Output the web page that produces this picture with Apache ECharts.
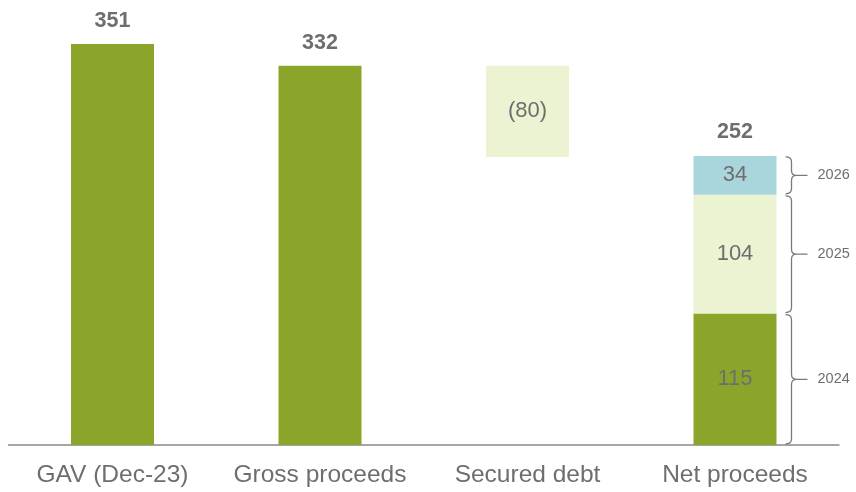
<!DOCTYPE html>
<html><head><meta charset="utf-8">
<script src="https://cdn.jsdelivr.net/npm/echarts@6/dist/echarts.min.js"></script>
<style>html,body{margin:0;padding:0;background:#fff}#c{width:856px;height:492px}</style>
</head><body><div id="c"></div>
<script>
const categories = ['GAV (Dec-23)', 'Gross proceeds', 'Secured debt', 'Net proceeds'];
const mainBars = [351, 332, '-', '-'];
const debtBase = ['-', '-', 252, '-'];
const debtValue = ['-', '-', 80, '-'];
const debtLabels = ['', '', '(80)', ''];
const net2024 = ['-', '-', '-', 115];
const net2025 = ['-', '-', '-', 104];
const net2026 = ['-', '-', '-', 34];
const netTotalLabel = ['', '', '', '252'];
const years = ['2024', '2025', '2026'];
const yearSegments = [[0, 115], [115, 219], [219, 253]];

const GREEN = '#8aa52a', LIGHT = '#ebf3d2', BLUE = '#a9d6dc', TXT = '#6e6e6e';
const FONT = 'Liberation Sans, Arial';
const chart = echarts.init(document.getElementById('c'));
const braceData = yearSegments.map((s, i) => [3, s[0], s[1], years[i]]);

chart.setOption({
  animation: false,
  grid: { left: 8.75, right: 17.25, top: 44, bottom: 47 },
  xAxis: {
    type: 'category', data: categories,
    axisLine: { lineStyle: { color: '#a6a6a6', width: 2 } },
    axisTick: { show: false },
    axisLabel: { interval: 0, hideOverlap: false, fontSize: 24.5, color: TXT, margin: 18, fontFamily: FONT }
  },
  yAxis: { type: 'value', min: 0, max: 351, show: false, splitLine: { show: false } },
  series: [
    { type: 'bar', stack: 's', data: mainBars, barWidth: '40%', itemStyle: { color: GREEN },
      label: { show: true, position: 'top', distance: 12, fontSize: 21.5, fontWeight: 'bold', color: TXT, fontFamily: FONT } },
    { type: 'bar', stack: 's', data: debtBase, itemStyle: { color: 'transparent' } },
    { type: 'bar', stack: 's', data: debtValue, itemStyle: { color: LIGHT },
      label: { show: true, position: 'inside', fontSize: 22, color: TXT, fontFamily: FONT,
        formatter: p => debtLabels[p.dataIndex] } },
    { type: 'bar', stack: 's', data: net2024, itemStyle: { color: GREEN },
      label: { show: true, position: 'inside', fontSize: 22, color: TXT, fontFamily: FONT } },
    { type: 'bar', stack: 's', data: net2025, itemStyle: { color: LIGHT },
      label: { show: true, position: 'inside', fontSize: 22, color: TXT, fontFamily: FONT } },
    { type: 'bar', stack: 's', data: net2026, itemStyle: { color: BLUE },
      label: { show: true, position: 'inside', fontSize: 22, color: TXT, fontFamily: FONT } },
    { type: 'bar', stack: 's', data: ['-', '-', '-', 0], itemStyle: { color: 'transparent' },
      label: { show: true, position: 'top', distance: 13, fontSize: 21.5, fontWeight: 'bold', color: TXT, fontFamily: FONT,
        formatter: p => netTotalLabel[p.dataIndex] } },
    { type: 'custom', data: braceData, silent: true, z: 5,
      renderItem: function (params, api) {
        const c = api.value(0);
        const top = api.coord([c, api.value(2)]);
        const bot = api.coord([c, api.value(1)]);
        const band = api.size([1, 0])[0];
        const xr = top[0] + band * 0.2;
        const x0 = xr + 9, x1 = xr + 15, x2 = xr + 20, x3 = xr + 31;
        const yt = top[1] + 1, yb = bot[1] - 1, ym = (yt + yb) / 2, r = 5;
        const d = `M${x0},${yt} Q${x1},${yt} ${x1},${yt + r} L${x1},${ym - r} Q${x1},${ym} ${x2},${ym} Q${x1},${ym} ${x1},${ym + r} L${x1},${yb - r} Q${x1},${yb} ${x0},${yb} M${x2},${ym} L${x3},${ym}`;
        return { type: 'group', children: [
          { type: 'path', shape: { pathData: d }, style: { stroke: '#7a7a7a', lineWidth: 1.3, fill: null } },
          { type: 'text', style: { text: years[params.dataIndex], x: x3 + 10, y: ym, verticalAlign: 'middle', align: 'left',
            fontSize: 14.5, fill: TXT, fontFamily: FONT } }
        ] };
      } }
  ]
});
</script></body></html>
